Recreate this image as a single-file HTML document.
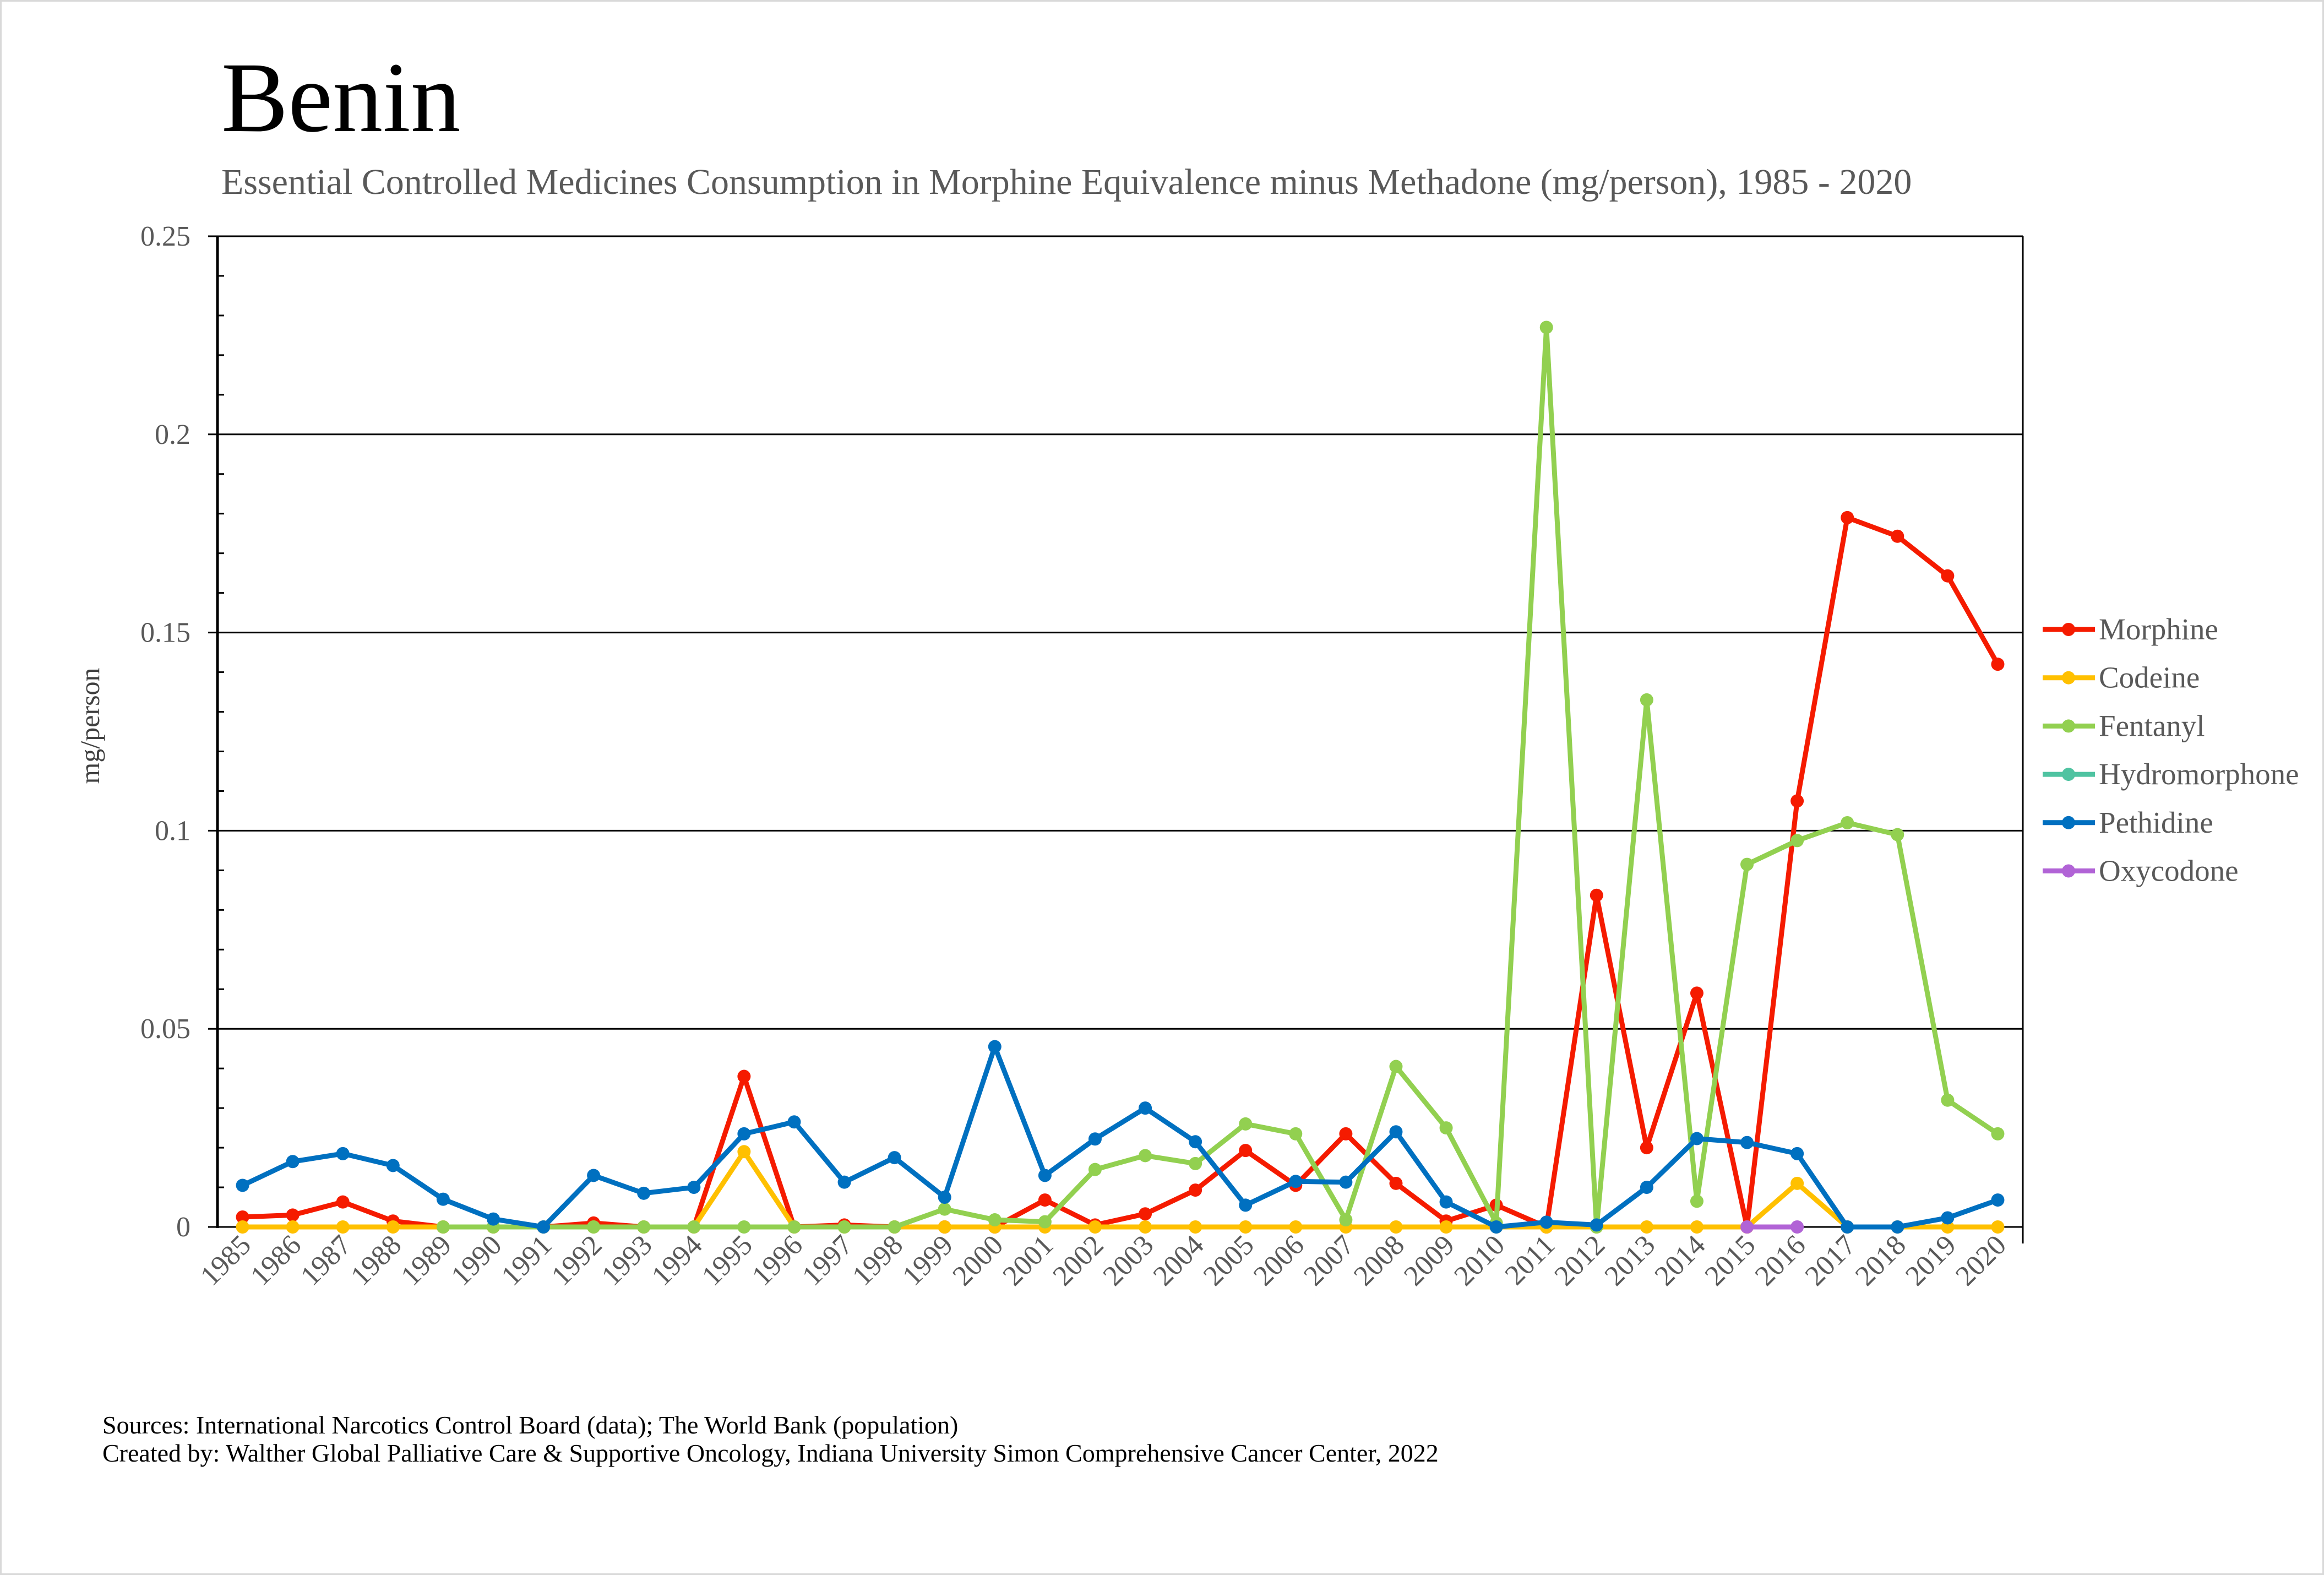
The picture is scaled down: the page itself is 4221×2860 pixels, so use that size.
<!DOCTYPE html>
<html><head><meta charset="utf-8"><style>
html,body{margin:0;padding:0;background:#fff}
svg{display:block}
text{font-family:"Liberation Serif",serif}
</style></head><body>
<svg id="c" width="4221" height="2860" xmlns="http://www.w3.org/2000/svg">
<rect x="1.5" y="1.5" width="4218" height="2857" fill="#fff" stroke="#d9d9d9" stroke-width="3"/>
<text x="402" y="238" font-size="182" fill="#000">Benin</text>
<text x="402" y="352" font-size="66" fill="#595959">Essential Controlled Medicines Consumption in Morphine Equivalence minus Methadone (mg/person), 1985 - 2020</text>
<text transform="translate(180,1318) rotate(-90)" font-size="50" fill="#404040" text-anchor="middle">mg/person</text>
<text x="186" y="2603" font-size="46" fill="#000">Sources: International Narcotics Control Board (data); The World Bank (population)</text>
<text x="186" y="2654" font-size="46" fill="#000">Created by: Walther Global Palliative Care &amp; Supportive Oncology, Indiana University Simon Comprehensive Cancer Center, 2022</text>
<g id="g"></g>
</svg>
<script>
var NS="http://www.w3.org/2000/svg",g=document.getElementById("g");
function el(t,a,txt){var e=document.createElementNS(NS,t);for(var k in a)e.setAttribute(k,a[k]);if(txt!=null)e.textContent=txt;g.appendChild(e);return e;}
var L=395,R=3674,Y0=2228,Y25=429;
function yv(v){return Y0-(Y0-Y25)*v/0.25;}
var step=(R-L)/36;function xv(i){return L+step*(i+0.5);}
var labs=["0","0.05","0.1","0.15","0.2","0.25"];
for(var k=0;k<=5;k++){var y=yv(k*0.05);el("line",{x1:378,x2:R,y1:y,y2:y,stroke:"#000","stroke-width":3});
el("text",{x:346,y:y+17,"font-size":52,fill:"#595959","text-anchor":"end"},labs[k]);}
for(var k=1;k<25;k++){if(k%5==0)continue;var y=yv(k*0.01);el("line",{x1:L,x2:L+12,y1:y,y2:y,stroke:"#000","stroke-width":3});}
el("line",{x1:L,x2:L,y1:Y25,y2:Y0+2,stroke:"#000","stroke-width":5});
el("line",{x1:R,x2:R,y1:Y25,y2:Y0+30,stroke:"#000","stroke-width":3});
for(var i=0;i<36;i++){el("text",{"font-size":52,fill:"#595959","text-anchor":"end",transform:"translate("+(xv(i)+18)+",2264) rotate(-45)"},String(1985+i));}
var M=[0.0025,0.003,0.0063,0.0015,0,0,0,0.001,0,0,0.038,0,0.0005,0,0,0,0.0068,0.0005,0.0033,0.0093,0.0193,0.0105,0.0235,0.011,0.0015,0.0055,0,0.0837,0.02,0.059,0,0.1075,0.179,0.1743,0.1643,0.142];
var C=[];for(var i=0;i<36;i++)C.push(0);C[10]=0.019;C[31]=0.011;
var F=[null,null,null,null,0,0,0,0,0,0,0,0,0,0,0.0045,0.0018,0.0013,0.0145,0.018,0.016,0.026,0.0235,0.0018,0.0405,0.025,0.001,0.227,0,0.133,0.0065,0.0915,0.0975,0.102,0.099,0.032,0.0235];
var P=[0.0105,0.0165,0.0185,0.0155,0.007,0.002,0,0.013,0.0085,0.01,0.0235,0.0265,0.0113,0.0175,0.0075,0.0455,0.013,0.0222,0.03,0.0215,0.0055,0.0115,0.0113,0.024,0.0063,0,0.0012,0.0005,0.01,0.0223,0.0213,0.0185,0,0,0.0023,0.0068];
var O=[];for(var i=0;i<36;i++)O.push(i==30||i==31?0:null);
var S=[[M,"#F51B00"],[C,"#FFC000"],[F,"#92D050"],[P,"#0070C0"],[O,"#B163D6"]];
S.forEach(function(s){var pts=[];s[0].forEach(function(v,i){if(v!=null)pts.push(xv(i)+","+yv(v));});
el("polyline",{points:pts.join(" "),fill:"none",stroke:s[1],"stroke-width":9,"stroke-linejoin":"round"});
s[0].forEach(function(v,i){if(v!=null)el("circle",{cx:xv(i),cy:yv(v),r:12,fill:s[1]});});});
var leg=[["Morphine","#F51B00"],["Codeine","#FFC000"],["Fentanyl","#92D050"],["Hydromorphone","#4FC3A1"],["Pethidine","#0070C0"],["Oxycodone","#B163D6"]];
leg.forEach(function(l,k){var y=1143+87.7*k;el("line",{x1:3710,x2:3805,y1:y,y2:y,stroke:l[1],"stroke-width":9});
el("circle",{cx:3757,cy:y,r:12,fill:l[1]});el("text",{x:3812,y:y+18,"font-size":55,fill:"#595959"},l[0]);});
</script>
</body></html>
